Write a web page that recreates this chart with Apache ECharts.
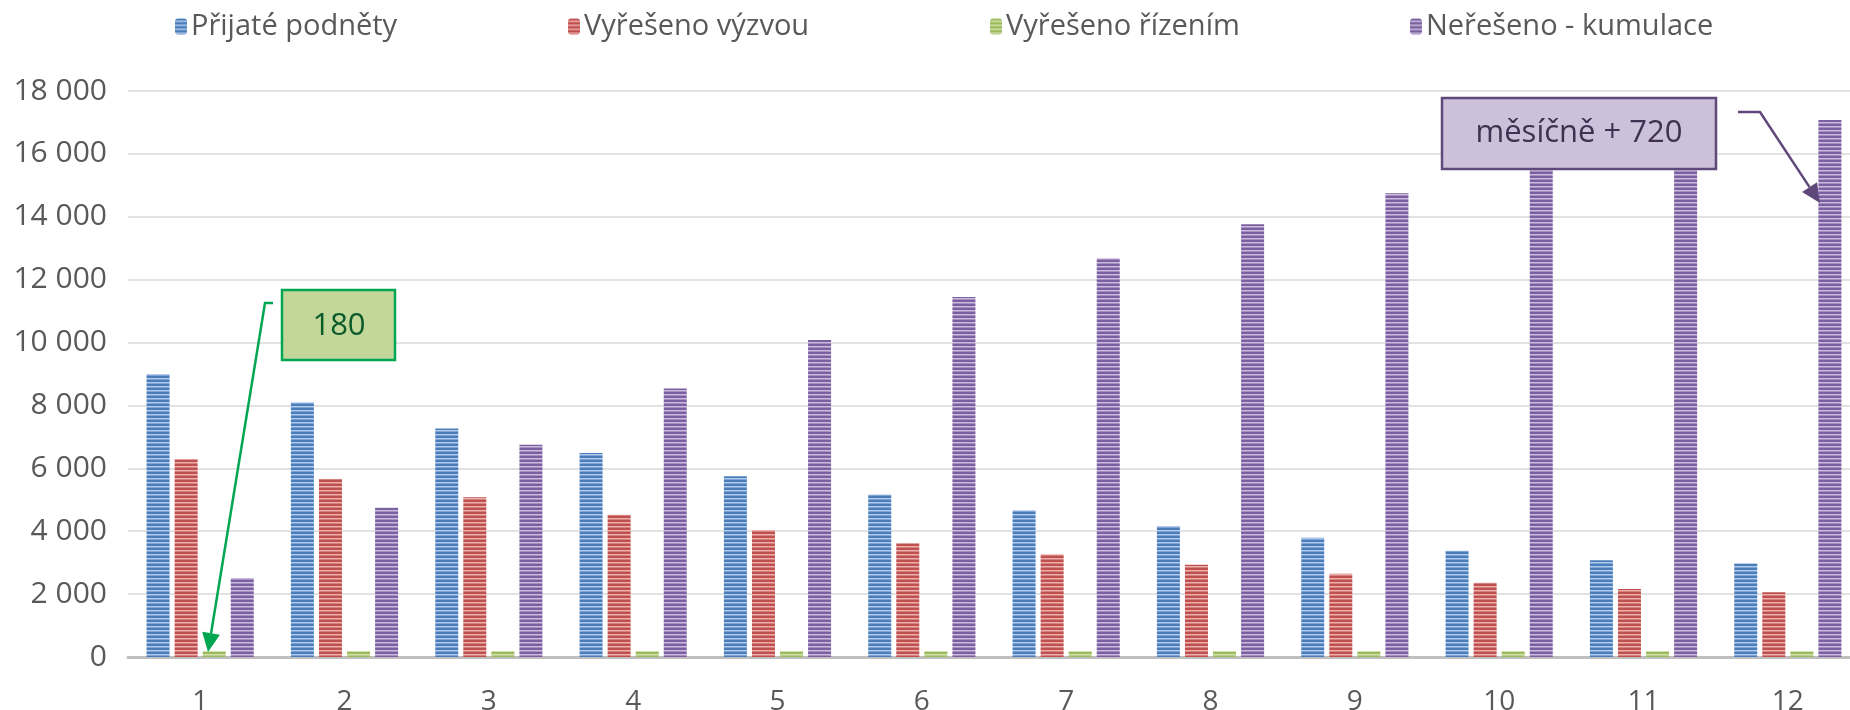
<!DOCTYPE html>
<html>
<head>
<meta charset="utf-8">
<script src="https://cdn.jsdelivr.net/npm/echarts@6/dist/echarts.min.js"></script>
<style>
  html, body { margin: 0; padding: 0; background: #fff; }
  #chart { width: 1850px; height: 710px; }
</style>
</head>
<body>
<div id="chart"></div>
<script>
  // mesice
  var months = ['1', '2', '3', '4', '5', '6', '7', '8', '9', '10', '11', '12'];
  var prijate = [9000, 8100, 7270, 6490, 5750, 5170, 4670, 4170, 3790, 3380, 3080, 2970];
  var vyzvou = [6290, 5660, 5080, 4520, 4040, 3620, 3270, 2930, 2650, 2360, 2160, 2060];
  var rizenim = [180, 180, 180, 180, 180, 180, 180, 180, 180, 180, 180, 180];
  var kumulace = [2510, 4750, 6750, 8540, 10080, 11450, 12680, 13760, 14750, 15630, 16400, 17080];
  var seriesNames = ['Přijaté podněty', 'Vyřešeno výzvou', 'Vyřešeno řízením', 'Neřešeno - kumulace'];
  var legendLeft = [175, 568, 990, 1410];

  var FONT = '"Open Sans", "DejaVu Sans", sans-serif';

  // vodorovne prouzky jako v excelu
  function stripes(dark, light, mid) {
    var c = document.createElement('canvas');
    c.width = 4; c.height = 4;
    var g = c.getContext('2d');
    g.fillStyle = dark; g.fillRect(0, 0, 4, 4);
    g.fillStyle = light; g.fillRect(0, 2, 4, 1);
    g.fillStyle = mid; g.fillRect(0, 3, 4, 1);
    return { image: c, repeat: 'repeat' };
  }

  var fills = [
    stripes('#4a7ebb', '#b3cbea', '#7fa3d4'),
    stripes('#c0504d', '#eab1af', '#d8807e'),
    stripes('#9bbb59', '#d2e1b4', '#b7cf88'),
    stripes('#7c5fa0', '#cbbcdd', '#a38fc0')
  ];
  var seriesData = [prijate, vyzvou, rizenim, kumulace];

  function arrow(pts, color) {
    var t = pts[pts.length - 1], p = pts[pts.length - 2];
    var dx = t[0] - p[0], dy = t[1] - p[1];
    var len = Math.sqrt(dx * dx + dy * dy);
    var ux = dx / len, uy = dy / len, nx = -uy, ny = ux;
    var L = 19, W = 9;
    var bx = t[0] - ux * L, by = t[1] - uy * L;
    var line = pts.slice(0, -1).concat([[bx, by]]);
    return [
      { type: 'polyline', shape: { points: line }, style: { stroke: color, lineWidth: 2.5, fill: null }, z: 100 },
      { type: 'polygon', shape: { points: [t, [bx + nx * W, by + ny * W], [bx - nx * W, by - ny * W]] }, style: { fill: color }, z: 100 }
    ];
  }

  var chart = echarts.init(document.getElementById('chart'));

  var legends = seriesNames.map(function (n, i) {
    return {
      data: [n],
      left: legendLeft[i],
      top: 12,
      itemWidth: 12,
      itemHeight: 16,
      itemGap: 0,
      padding: 0,
      selectedMode: false,
      textStyle: { fontFamily: FONT, fontSize: 29, color: '#595959', padding: [0, 0, 0, -1] }
    };
  });

  var series = seriesNames.map(function (n, i) {
    return {
      name: n,
      type: 'bar',
      barWidth: 23,
      barGap: '22%',
      data: seriesData[i],
      itemStyle: { color: fills[i] }
    };
  });

  var graphics = []
    .concat(arrow([[273, 303], [265, 303], [208, 652]], '#00a651'))
    .concat(arrow([[1738, 112], [1760, 112], [1820, 203]], '#5f497a'))
    .concat([
      { type: 'rect', shape: { x: 282, y: 290, width: 113, height: 70 }, style: { fill: '#c4d79b', stroke: '#00a651', lineWidth: 2.5 }, z: 100 },
      { type: 'text', x: 339, y: 326, style: { text: '180', fill: '#0b5a2a', font: '31px ' + FONT, align: 'center', verticalAlign: 'middle' }, z: 101 },
      { type: 'rect', shape: { x: 1442, y: 98, width: 274, height: 71 }, style: { fill: '#ccc0da', stroke: '#5f497a', lineWidth: 2.5 }, z: 100 },
      { type: 'text', x: 1579, y: 133, style: { text: 'měsíčně + 720', fill: '#3f3151', font: '31px ' + FONT, align: 'center', verticalAlign: 'middle' }, z: 101 }
    ]);

  var option = {
    backgroundColor: '#fff',
    animation: false,
    legend: legends,
    grid: { left: 128, right: -10, top: 91, bottom: 53, containLabel: false, outerBoundsMode: 'none' },
    xAxis: {
      type: 'category',
      data: months,
      axisTick: { show: false },
      axisLine: { lineStyle: { color: '#bfbfbf', width: 3 } },
      axisLabel: { color: '#595959', fontFamily: FONT, fontSize: 28, margin: 31 }
    },
    yAxis: {
      type: 'value',
      min: 0,
      max: 18000,
      interval: 2000,
      axisLine: { show: false },
      axisTick: { show: false },
      splitLine: { lineStyle: { color: '#d9d9d9', width: 1.5 } },
      axisLabel: {
        color: '#595959', fontFamily: FONT, fontSize: 30, margin: 21,
        formatter: function (v) { return String(v).replace(/\B(?=(\d{3})+(?!\d))/g, ' '); }
      }
    },
    series: series,
    graphic: graphics
  };
  chart.setOption(option);
</script>
</body>
</html>
